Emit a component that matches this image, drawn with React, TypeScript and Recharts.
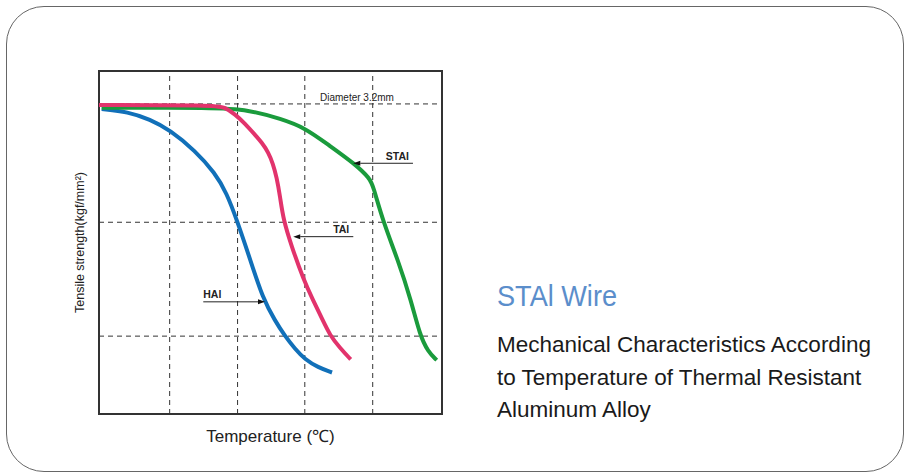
import { LineChart, Line, XAxis, YAxis, ReferenceLine, ReferenceArea, ReferenceDot } from "recharts";

// temperature (x) / tensile strength (y), arbitrary units
const haTemp = [3.9, 42.3, 74.3, 103.5, 139.9, 169.1, 186.1, 201.1, 220.1, 239.0, 256.6, 271.1, 285.7, 300.3, 319.2, 339.7];
const haStrength = [88.9, 88.1, 85.9, 82.8, 76.8, 70.3, 64.4, 56.5, 45.2, 33.6, 27.2, 22.7, 19.0, 15.9, 13.6, 12.1];

const taTemp = [0, 169.1, 183.7, 198.2, 212.8, 227.4, 237.6, 246.8, 253.6, 259.0, 263.8, 268.7, 280.9, 297.8, 312.4, 325.1, 336.7, 351.3, 366.9];
const taStrength = [90.1, 90.0, 89.4, 87.4, 84.7, 81.4, 79.1, 76.3, 73.0, 69.0, 63.6, 56.6, 48.8, 39.4, 33.0, 27.8, 22.9, 19.3, 15.9];

const staTemp = [3.9, 169.1, 217.2, 266.3, 300.3, 333.4, 373.2, 395.0, 399.4, 414.4, 435.8, 454.8, 467.9, 479.6, 492.3];
const staStrength = [89.3, 89.3, 88.7, 86.0, 83.4, 78.6, 72.9, 68.6, 66.6, 55.9, 44.9, 33.2, 22.9, 18.2, 15.7];

const gridTemps = [103, 202, 300, 399];
const gridStrengths = [22.7, 55.9, 90.4];

const toPoints = (xs: number[], ys: number[]) => xs.map((x, i) => ({ x, y: ys[i] }));

const haData = toPoints(haTemp, haStrength);
const taData = toPoints(taTemp, taStrength);
const staData = toPoints(staTemp, staStrength);

const labelFont = "'Liberation Sans Narrow', 'Liberation Sans', Arial, sans-serif";

// arrow annotations: tail -> tip
const arrowNotes = [
  { name: "STAl", tail: { x: 457.7, y: 73.1 }, tip: { x: 370.7, y: 73.1 } },
  { name: "TAl", tail: { x: 370.7, y: 51.7 }, tip: { x: 283.2, y: 51.7 } },
  { name: "HAl", tail: { x: 152.0, y: 32.7 }, tip: { x: 242.0, y: 32.7 } },
];

function makeArrow(name: string) {
  return (props: any) => {
    const { x1, y1, x2, y2 } = props;
    const dir = x2 > x1 ? 1 : -1;
    const head = 7;
    // label sits above the tail end
    const textX = dir > 0 ? x1 : x1 - 4;
    return (
      <g>
        <line x1={x1} y1={y1} x2={x2 - dir * head} y2={y2} stroke="#222" strokeWidth={1} />
        <polygon
          points={`${x2},${y2} ${x2 - dir * head},${y2 - 2.5} ${x2 - dir * head},${y2 + 2.5}`}
          fill="#111"
        />
        <text
          x={textX}
          y={y1 - 3.5}
          textAnchor={dir > 0 ? "start" : "end"}
          fontSize={10.5}
          fontWeight="bold"
          fontFamily={labelFont}
          fill="#222"
        >
          {name}
        </text>
      </g>
    );
  };
}

const DiameterText = (props: any) => (
  <text x={props.cx} y={props.cy} fontSize={10} fontFamily={labelFont} fill="#222">
    Diameter 3.2mm
  </text>
);

export default function App() {
  return (
    <div style={{ position: "relative", width: 905, height: 475, background: "#fff", fontFamily: "'Liberation Sans', Arial, sans-serif" }}>
      <style>{"body{margin:0}"}</style>
      <div
        style={{
          position: "absolute",
          left: 6,
          top: 6,
          width: 896,
          height: 464,
          border: "1px solid #666",
          borderRadius: 38,
        }}
      />
      <div style={{ position: "absolute", left: 0, top: 0 }}>
        <LineChart width={905} height={475} margin={{ top: 71, right: 463, bottom: 21, left: 0 }}>
          <XAxis
            type="number"
            dataKey="x"
            domain={[0, 500]}
            tick={false}
            tickLine={false}
            axisLine={false}
            height={40}
            label={{ value: "Temperature (℃)", position: "insideBottom", offset: 12, fontSize: 17, fill: "#222" }}
          />
          <YAxis
            type="number"
            dataKey="y"
            domain={[0, 100]}
            tick={false}
            tickLine={false}
            axisLine={false}
            width={99}
            label={{
              value: "Tensile strength(kgf/mm²)",
              angle: -90,
              position: "insideLeft",
              offset: 80,
              fontSize: 12.5,
              fill: "#222",
              fontFamily: labelFont,
              style: { textAnchor: "middle" },
            }}
          />
          {gridTemps.map((t) => (
            <ReferenceLine key={"vx" + t} x={t} stroke="#333" strokeDasharray="5 4" />
          ))}
          {gridStrengths.map((s) => (
            <ReferenceLine key={"hy" + s} y={s} stroke="#333" strokeDasharray="5 4" />
          ))}
          <ReferenceArea x1={0} x2={500} y1={0} y2={100} fill="none" stroke="#333" strokeWidth={2} fillOpacity={0} />
          <Line data={haData} dataKey="y" type="basis" stroke="#1170b9" strokeWidth={4} dot={false} isAnimationActive={false} />
          <Line data={staData} dataKey="y" type="basis" stroke="#1a9b3c" strokeWidth={4} dot={false} isAnimationActive={false} />
          <Line data={taData} dataKey="y" type="basis" stroke="#e2336c" strokeWidth={4} dot={false} isAnimationActive={false} />
          {arrowNotes.map((a) => (
            <ReferenceLine key={a.name} segment={[a.tail, a.tip]} shape={makeArrow(a.name)} />
          ))}
          <ReferenceDot x={322.2} y={91.3} r={0} shape={DiameterText} />
        </LineChart>
      </div>
      <svg width={905} height={475} style={{ position: "absolute", left: 0, top: 0, pointerEvents: "none" }}>
        <text x={497} y={306} fontSize={30} fill="#5b8ecb" textLength={120} lengthAdjust="spacingAndGlyphs">
          STAl Wire
        </text>
        <text x={497} y={352} fontSize={22.5} fill="#1a1a1a">
          Mechanical Characteristics According
        </text>
        <text x={497} y={384.5} fontSize={22.5} fill="#1a1a1a">
          to Temperature of Thermal Resistant
        </text>
        <text x={497} y={417} fontSize={22.5} fill="#1a1a1a">
          Aluminum Alloy
        </text>
      </svg>
    </div>
  );
}
